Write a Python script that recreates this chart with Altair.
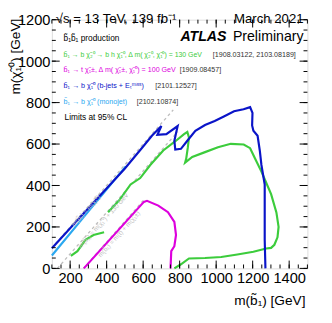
import altair as alt
import pandas as pd

# ---------------- data ----------------
blue_x = [100, 300, 500, 600, 648, 700, 678, 727, 789, 771, 776, 807, 842, 886, 939, 992, 1045, 1098, 1150, 1186, 1199, 1197, 1204, 1227, 1239, 1248, 1257, 1266, 1266, 1266, 1270]
blue_y = [97, 290, 482, 588, 640, 687, 645, 648, 687, 616, 573, 577, 616, 664, 692, 711, 734, 758, 768, 778, 750, 690, 664, 640, 569, 499, 452, 405, 295, 138, 0]

mono_x = [100, 300, 505]
mono_y = [62, 275, 492]

green1_x = [204, 240, 284, 328, 386]
green1_y = [60, 83, 138, 161, 174]

green2_x = [408, 470, 531, 584, 639, 710, 780, 824, 842, 851, 845, 836, 830, 869, 939, 1010, 1080, 1151, 1186, 1213, 1248, 1266, 1301, 1330, 1342, 1336, 1319, 1301, 1274, 1204, 1116, 1028, 939, 851, 807, 771]
green2_y = [271, 330, 405, 436, 499, 569, 616, 648, 658, 632, 585, 530, 510, 538, 561, 585, 601, 598, 580, 530, 467, 430, 358, 270, 200, 150, 114, 99, 96, 80, 67, 55, 50, 48, 20, 0]

mag_x = [275, 604, 621, 683, 736, 771, 780, 771, 754, 750]
mag_y = [0, 321, 326, 303, 271, 224, 161, 107, 83, 0]

diag_names = ["m1", "m1", "m130", "m130", "mt", "mt"]
diag_x = [100, 765, 130, 790, 273, 610]
diag_y = [100, 765, 0, 660, 0, 337]

x_major = [200, 400, 600, 800, 1000, 1200, 1400]
y_major = [0, 200, 400, 600, 800, 1000, 1200]
x_minor = list(range(100, 1501, 50))
y_minor = list(range(0, 1201, 50))

W, H = 262, 255
X0, Y0 = 53, 16   # page position of the plot origin
XMIN, XMAX, YMIN, YMAX = 100, 1500, 0, 1200
GX = (XMAX - XMIN) / W   # GeV per pixel
GY = (YMAX - YMIN) / H

GREEN = "#3ccc3c"
MAG = "#dd00dd"
DBLUE = "#0a14c8"
LBLUE = "#2aa8f0"
GRAY = "#bdbdbd"
FONT = "Liberation Sans"

xs = alt.Scale(domain=[XMIN, XMAX], nice=False, zero=False)
ys = alt.Scale(domain=[YMIN, YMAX], nice=False, zero=False)
xaxis = alt.Axis(values=x_major, title=None, ticks=False, domain=False, grid=False, format="d",
                 labelFont=FONT, labelFontSize=15, labelColor="black", labelPadding=2,
                 labelFlush=False, labelOverlap=False)
yaxis = alt.Axis(values=y_major, title=None, ticks=False, domain=False, grid=False, format="d",
                 labelFont=FONT, labelFontSize=15, labelColor="black", labelPadding=2,
                 labelFlush=False, labelOverlap=False)


def X(f):
    return alt.X(f, scale=xs, axis=xaxis)


def Y(f):
    return alt.Y(f, scale=ys, axis=yaxis)


def curve(xv, yv, color, width=2.2):
    df = pd.DataFrame({"x": xv, "y": yv, "i": list(range(len(xv)))})
    return alt.Chart(df).mark_line(color=color, strokeWidth=width).encode(
        x=X("x:Q"), y=Y("y:Q"), order="i:Q")


diag_df = pd.DataFrame({"name": diag_names, "x": diag_x, "y": diag_y})
diag = alt.Chart(diag_df).mark_line(color=GRAY, strokeWidth=1.3, strokeDash=[3, 3]).encode(
    x=X("x:Q"), y=Y("y:Q"), detail="name:N")

# inward ticks on all four sides, as ranged rules through the scales
trows = []
for vals, L in [(x_major, 8), (x_minor, 4)]:
    d = L * GY
    for v in vals:
        trows.append({"x": v, "x2": v, "y": YMIN, "y2": YMIN + d})
        trows.append({"x": v, "x2": v, "y": YMAX, "y2": YMAX - d})
for vals, L in [(y_major, 8), (y_minor, 4)]:
    d = L * GX
    for v in vals:
        trows.append({"x": XMIN, "x2": XMIN + d, "y": v, "y2": v})
        trows.append({"x": XMAX, "x2": XMAX - d, "y": v, "y2": v})
ticks = alt.Chart(pd.DataFrame(trows)).mark_rule(color="black", strokeWidth=1).encode(
    x=X("x:Q"), x2="x2:Q", y=Y("y:Q"), y2="y2:Q")


def txt(s, px, py, size, color="black", align="left", baseline="middle", weight="normal", style="normal", angle=0):
    kw = dict(text=s, align=align, baseline=baseline, fontSize=size, color=color, font=FONT,
              fontWeight=weight, fontStyle=style)
    if angle:
        kw["angle"] = angle
    return alt.Chart(pd.DataFrame({"a": [0]})).mark_text(**kw).encode(
        x=alt.value(px - X0), y=alt.value(py - Y0))


B = "b\u0303\u2081"
C1 = "\u03c7\u0303\u2081\u2070"
C2 = "\u03c7\u0303\u2082\u2070"
CPM = "\u03c7\u0303\u2081\u00b1"

texts = [
    txt("\u221as = 13 TeV, 139 fb\u207b\u00b9", 57, 19, 13.5, baseline="alphabetic"),
    txt("March 2021", 311, 19, 13.5, align="right", baseline="alphabetic"),
    txt("ATLAS", 232, 38, 14.5, align="right", baseline="alphabetic", weight="bold", style="italic"),
    txt("Preliminary", 311, 38, 14.5, align="right", baseline="alphabetic"),
    txt(B + B + " production", 65, 35, 8.5),
    txt(B + " \u2192 b " + C2 + " \u2192 b h " + C1 + ", \u0394 m( " + C2 + ", " + C1 + ") = 130 GeV", 65, 52, 7.1, color=GREEN),
    txt("[1908.03122, 2103.08189]", 218, 52, 7.3, color="#333333"),
    txt(B + " \u2192 t " + CPM + ", \u0394 m( " + CPM + ", " + C1 + ") = 100 GeV", 65, 68, 7.3, color=MAG),
    txt("[1909.08457]", 184, 68, 7.3, color="#333333"),
    txt(B + " \u2192 b " + C1 + " (b-jets + E\u209c\u1d50\u2071\u02e2\u02e2)", 65, 84, 7.3, color=DBLUE),
    txt("[2101.12527]", 159, 84, 7.3, color="#333333"),
    txt(B + " \u2192 b " + C1 + " (monojet)", 65, 100, 7.3, color=LBLUE),
    txt("[2102.10874]", 140, 100, 7.3, color="#333333"),
    txt("Limits at 95% CL", 66, 116, 8.5),
    txt("m(" + B + ") [GeV]", 313, 305, 14, align="right"),
    txt("m(" + C1 + ") [GeV]", 16, 15, 14, align="right", angle=270),
    txt("m(" + B + ") = m(" + C1 + ")", 88, 212, 6.5, color=GRAY, align="center", angle=312),
    txt("m(" + B + ") = m(" + C1 + ") + 130 GeV", 106, 222, 6.5, color=GRAY, align="center", angle=312),
    txt("m(" + B + ") = m(t) + m(" + CPM + ")", 122, 236, 6.5, color=GRAY, align="center", angle=312),
]

layers = [diag,
          curve(green1_x, green1_y, GREEN), curve(green2_x, green2_y, GREEN),
          curve(mag_x, mag_y, MAG),
          curve(mono_x, mono_y, LBLUE),
          curve(blue_x, blue_y, DBLUE), ticks] + texts

chart = alt.layer(*layers).properties(
    width=W, height=H,
    padding={"left": 45, "top": 8, "right": 17, "bottom": 52},
    autosize=alt.AutoSizeParams(type="none"),
).configure_view(stroke="black", strokeWidth=1.2).configure(background="white")

chart.save("out.html", embed_options={"renderer": "svg", "actions": False})
